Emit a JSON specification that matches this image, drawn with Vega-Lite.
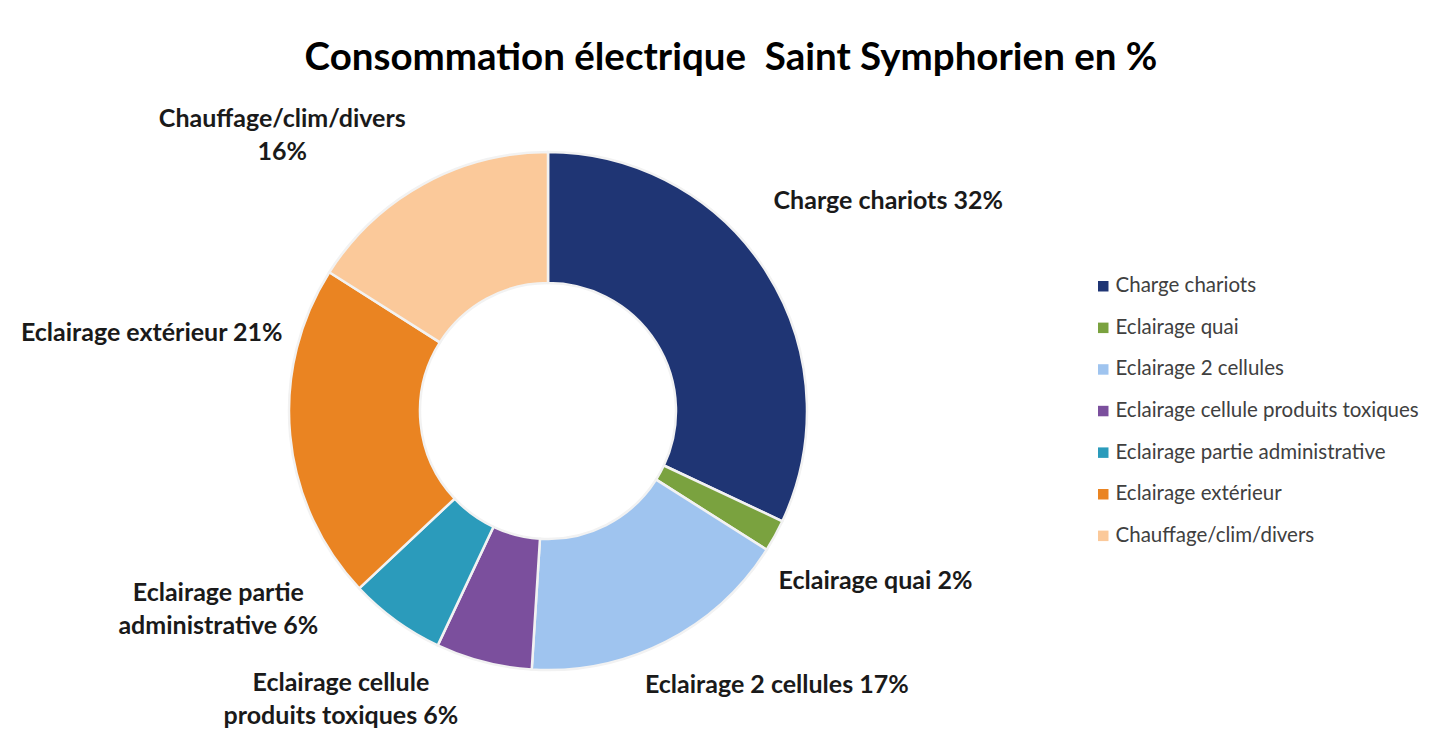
{
  "$schema": "https://vega.github.io/schema/vega-lite/v6.json",
  "autosize": "none",
  "width": 1096,
  "height": 600,
  "padding": {"left": 0, "top": 111, "right": 334, "bottom": 19},
  "background": "white",
  "title": {
    "text": "Consommation électrique\u00a0 Saint Symphorien en %",
    "font": "Lato",
    "fontSize": 38.5,
    "fontWeight": "bold",
    "color": "#000000",
    "anchor": "middle",
    "frame": "group",
    "dx": 183,
    "offset": 36,
    "dy": 178
  },
  "data": {
    "values": [
      {"category": "Charge chariots", "value": 32, "label": "Charge chariots 32%"},
      {"category": "Eclairage quai", "value": 2, "label": "Eclairage quai 2%"},
      {"category": "Eclairage 2 cellules", "value": 17, "label": "Eclairage 2 cellules 17%"},
      {"category": "Eclairage cellule produits toxiques", "value": 6, "label": "Eclairage cellule\nproduits toxiques 6%"},
      {"category": "Eclairage partie administrative", "value": 6, "label": "Eclairage partie\nadministrative 6%"},
      {"category": "Eclairage extérieur", "value": 21, "label": "Eclairage extérieur 21%"},
      {"category": "Chauffage/clim/divers", "value": 16, "label": "Chauffage/clim/divers\n16%"}
    ]
  },
  "transform": [{"window": [{"op": "row_number", "as": "idx"}]}],
  "encoding": {
    "theta": {"field": "value", "type": "quantitative", "stack": true},
    "order": {"field": "idx", "type": "quantitative"}
  },
  "layer": [
    {
      "mark": {"type": "arc", "outerRadius": 259, "innerRadius": 128, "stroke": "#f2f2f2", "strokeWidth": 2.5},
      "encoding": {
        "color": {
          "field": "category",
          "type": "nominal",
          "scale": {
            "domain": ["Charge chariots", "Eclairage quai", "Eclairage 2 cellules", "Eclairage cellule produits toxiques", "Eclairage partie administrative", "Eclairage extérieur", "Chauffage/clim/divers"],
            "range": ["#1f3574", "#7aa23f", "#9fc4ef", "#7b4f9d", "#2b9bbb", "#ea8422", "#fbc99a"]
          },
          "legend": {
            "orient": "none",
            "legendX": 1093,
            "legendY": 165,
            "title": null,
            "symbolType": "square",
            "symbolSize": 110,
            "symbolStrokeWidth": 0,
            "labelFont": "Lato",
            "labelFontSize": 20.5,
            "labelColor": "#404040",
            "labelOffset": 2,
            "rowPadding": 20.6,
            "labelLimit": 400
          }
        }
      }
    },
    {
      "mark": {"type": "text", "radius": 403, "dy": 6, "font": "Lato", "fontSize": 25, "fontWeight": "bold", "color": "#1a1a1a", "align": "center", "baseline": "middle", "lineBreak": "\n", "lineHeight": 33},
      "encoding": {"detail": {"field": "category"}, "text": {"condition": {"test": "datum.category === 'Charge chariots'", "field": "label", "type": "nominal"}, "value": ""}}
    },
    {
      "mark": {"type": "text", "radius": 368, "dx": 5, "dy": -7, "font": "Lato", "fontSize": 25, "fontWeight": "bold", "color": "#1a1a1a", "align": "center", "baseline": "middle", "lineBreak": "\n", "lineHeight": 33},
      "encoding": {"detail": {"field": "category"}, "text": {"condition": {"test": "datum.category === 'Eclairage quai'", "field": "label", "type": "nominal"}, "value": ""}}
    },
    {
      "mark": {"type": "text", "radius": 308, "dx": 89, "font": "Lato", "fontSize": 25, "fontWeight": "bold", "color": "#1a1a1a", "align": "center", "baseline": "middle", "lineBreak": "\n", "lineHeight": 33},
      "encoding": {"detail": {"field": "category"}, "text": {"condition": {"test": "datum.category === 'Eclairage 2 cellules'", "field": "label", "type": "nominal"}, "value": ""}}
    },
    {
      "mark": {"type": "text", "radius": 298, "dx": -133, "dy": -17, "font": "Lato", "fontSize": 25, "fontWeight": "bold", "color": "#1a1a1a", "align": "center", "baseline": "middle", "lineBreak": "\n", "lineHeight": 33},
      "encoding": {"detail": {"field": "category"}, "text": {"condition": {"test": "datum.category === 'Eclairage cellule produits toxiques'", "field": "label", "type": "nominal"}, "value": ""}}
    },
    {
      "mark": {"type": "text", "radius": 241, "dx": -188, "dy": -13, "font": "Lato", "fontSize": 25, "fontWeight": "bold", "color": "#1a1a1a", "align": "center", "baseline": "middle", "lineBreak": "\n", "lineHeight": 33},
      "encoding": {"detail": {"field": "category"}, "text": {"condition": {"test": "datum.category === 'Eclairage partie administrative'", "field": "label", "type": "nominal"}, "value": ""}}
    },
    {
      "mark": {"type": "text", "radius": 396, "dx": -2, "dy": -115, "font": "Lato", "fontSize": 25, "fontWeight": "bold", "color": "#1a1a1a", "align": "center", "baseline": "middle", "lineBreak": "\n", "lineHeight": 33},
      "encoding": {"detail": {"field": "category"}, "text": {"condition": {"test": "datum.category === 'Eclairage extérieur'", "field": "label", "type": "nominal"}, "value": ""}}
    },
    {
      "mark": {"type": "text", "radius": 317, "dx": -113, "dy": -14, "font": "Lato", "fontSize": 25, "fontWeight": "bold", "color": "#1a1a1a", "align": "center", "baseline": "middle", "lineBreak": "\n", "lineHeight": 33},
      "encoding": {"detail": {"field": "category"}, "text": {"condition": {"test": "datum.category === 'Chauffage/clim/divers'", "field": "label", "type": "nominal"}, "value": ""}}
    }
  ],
  "config": {"view": {"stroke": null}}
}
